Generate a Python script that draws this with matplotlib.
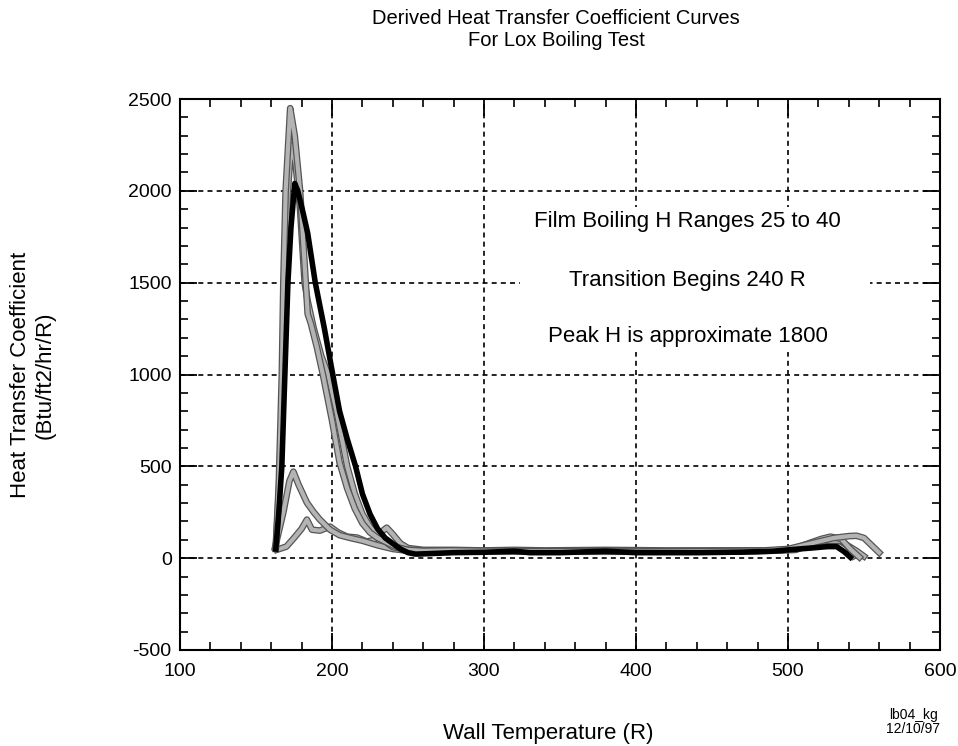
import matplotlib
matplotlib.use("Agg")
import matplotlib.pyplot as plt
import matplotlib.patheffects as pe
from matplotlib.patches import Rectangle
from matplotlib.ticker import MultipleLocator

plt.rcParams['font.family'] = ['Liberation Sans', 'DejaVu Sans']
plt.rcParams['axes.unicode_minus'] = False

# ---- data ----
black_x = [163, 165, 167, 169, 171, 173, 175.5, 177.5, 181, 184, 189, 195, 200.5, 205, 210, 215.5,
           220, 225, 230, 235, 240, 245, 250, 255, 265, 280, 300, 320, 330, 350, 380, 400, 420,
           442, 470, 490, 501, 515, 526, 532, 537, 541]
black_y = [50, 250, 500, 1000, 1500, 1800, 2040, 2000, 1880, 1770, 1500, 1250, 1000, 800, 650, 500,
           350, 240, 160, 110, 80, 50, 30, 22, 25, 30, 32, 38, 30, 30, 38, 30, 30,
           30, 33, 38, 46, 55, 63, 63, 35, 5]

grayA_x = [163, 165, 166, 167, 168, 169.5, 172.5, 175.5, 179, 182, 184, 186, 190, 194, 200, 205,
           210, 215, 220, 225, 230, 235, 240, 245, 250, 260, 280, 300, 330, 360, 400, 440, 480,
           500, 510, 520, 530, 540, 545, 550, 555, 560]
grayA_y = [60, 400, 700, 1000, 1500, 2000, 2450, 2300, 2000, 1600, 1330, 1280, 1150, 1000, 750, 520,
           380, 270, 190, 140, 110, 90, 70, 55, 45, 40, 42, 40, 38, 38, 36, 38, 40,
           50, 70, 90, 110, 120, 122, 110, 70, 30]

grayD_x = [163, 165, 166.5, 168, 169, 171, 173, 176, 179, 182, 184, 188, 193, 197.5, 203, 210,
           215, 220, 225, 230, 235, 240, 250, 270, 300, 340, 380, 420, 460, 495, 505, 515, 522,
           528, 535, 541, 547]
grayD_y = [50, 350, 700, 1000, 1500, 2000, 2250, 2150, 1900, 1500, 1400, 1250, 1100, 1000, 800, 500,
           350, 240, 170, 120, 90, 60, 45, 40, 38, 38, 42, 38, 40, 42, 55, 85, 105,
           117, 105, 50, 5]

grayB_x = [162.5, 168, 172, 174.6, 178, 183.5, 188, 192, 198.7, 205, 212, 220, 230, 240, 250, 270,
           300, 330, 360, 400, 440, 480, 505, 515, 525, 535, 540, 543]
grayB_y = [57, 250, 420, 471, 400, 302, 250, 210, 155, 125, 110, 95, 70, 50, 40, 40,
           38, 35, 35, 35, 35, 38, 45, 75, 95, 95, 60, 10]

grayC_x = [163.8, 170, 175, 180, 183.5, 186.8, 192, 198.7, 204, 210, 216.5, 223, 228, 232, 236,
           240, 245, 250, 260, 280, 300, 320, 340, 380, 420, 460, 490, 505, 515, 528, 535, 545, 550]
grayC_y = [46, 63, 110, 160, 210, 155, 150, 172, 140, 117, 112, 90, 100, 140, 166,
           130, 80, 55, 45, 45, 42, 45, 42, 45, 42, 42, 42, 48, 80, 100, 90, 40, 10]

x_ticks = [100, 200, 300, 400, 500, 600]
y_ticks = [-500, 0, 500, 1000, 1500, 2000, 2500]

title_text = "Derived Heat Transfer Coefficient Curves\nFor Lox Boiling Test"
xlabel_text = "Wall Temperature (R)"
ylabel_text = "Heat Transfer Coefficient\n(Btu/ft2/hr/R)"
notes = ["Film Boiling H Ranges 25 to 40", "Transition Begins 240 R", "Peak H is approximate 1800"]
note_y = [1832, 1510, 1205]
footer = "lb04_kg\n12/10/97"

# ---- figure ----
W, H = 958, 746
fig = plt.figure(figsize=(W / 100, H / 100), dpi=100)
ax = fig.add_axes([180 / W, 1 - 650 / H, 760 / W, 551 / H])

ax.set_xlim(100, 600)
ax.set_ylim(-500, 2500)
ax.set_xticks(x_ticks)
ax.set_yticks(y_ticks)
ax.xaxis.set_minor_locator(MultipleLocator(20))
ax.yaxis.set_minor_locator(MultipleLocator(100))
ax.tick_params(which='both', direction='in', top=True, right=True, labelsize=14, colors='black')
ax.tick_params(which='major', length=12, width=1.3)
ax.tick_params(which='minor', length=6, width=1.2)
ax.tick_params(axis='x', pad=9)
ax.tick_params(axis='y', pad=6)
for s in ax.spines.values():
    s.set_linewidth(1.5)

ax.grid(True, which='major', color='black', linestyle=(0, (3, 2.5)), linewidth=1.2, zorder=1)
ax.set_axisbelow(True)

# white text block covering the grid
ax.add_patch(Rectangle((323.7, 1124), 230.3, 789, facecolor='white', edgecolor='none', zorder=1.5))

gray_fx = [pe.Stroke(linewidth=4.8, foreground='#555555'), pe.Normal()]
for gx, gy in [(grayC_x, grayC_y), (grayB_x, grayB_y), (grayD_x, grayD_y), (grayA_x, grayA_y)]:
    ax.plot(gx, gy, color='#b4b4b4', linewidth=3.0, solid_joinstyle='round',
            path_effects=gray_fx, zorder=3)
ax.plot(black_x, black_y, color='black', linewidth=4, solid_joinstyle='round', zorder=4)

for t, yv in zip(notes, note_y):
    ax.text(434, yv, t, ha='center', va='center', fontsize=16, zorder=5)

fig.text(556 / W, 1 - 29 / H, title_text, ha='center', va='center', fontsize=14.5, linespacing=1.2)
fig.text(548 / W, 1 - 733 / H, xlabel_text, ha='center', va='center', fontsize=16)
fig.text(33 / W, 1 - 375 / H, ylabel_text, ha='center', va='center', rotation=90, fontsize=16,
         linespacing=1.2)
fig.text(913 / W, 1 - 722 / H, footer, ha='center', va='center', fontsize=10, linespacing=1.0)

fig.savefig("out.png", dpi=100)
